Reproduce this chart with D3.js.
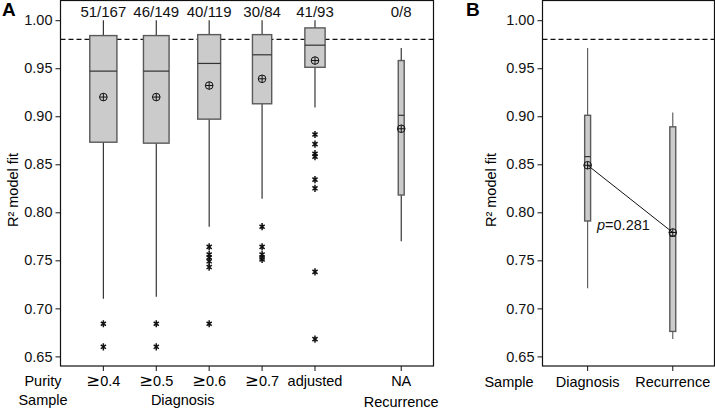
<!DOCTYPE html>
<html><head><meta charset="utf-8">
<script src="https://cdn.jsdelivr.net/npm/d3@7"></script>
<style>
html,body{margin:0;padding:0;background:#fff;}
svg{display:block;font-family:"Liberation Sans",Arial,Helvetica,sans-serif;}
</style></head>
<body>
<svg id="chart" width="715" height="409"></svg>
<script>
// ---------------- DATA ----------------
// Panel A
const purityA   = ["≥0.4", "≥0.5", "≥0.6", "≥0.7", "adjusted", "NA"];
const sampleA   = ["Diagnosis", "Diagnosis", "Diagnosis", "Diagnosis", "Diagnosis", "Recurrence"];
const countsA   = ["51/167", "46/149", "40/119", "30/84", "41/93", "0/8"];
const nA        = [167, 149, 119, 84, 93, 8];
const whiskLoA  = [0.710, 0.712, 0.785, 0.814, 0.909, 0.770];
const q1A       = [0.873, 0.872, 0.897, 0.913, 0.951, 0.818];
const medianA   = [0.947, 0.947, 0.955, 0.964, 0.974, 0.901];
const q3A       = [0.984, 0.984, 0.985, 0.985, 0.992, 0.958];
const whiskHiA  = [1.000, 1.000, 1.000, 1.000, 1.000, 0.971];
const meanA     = [0.920, 0.920, 0.932, 0.939, 0.958, 0.887];
const outliersA = [
  [0.684, 0.660],
  [0.684, 0.660],
  [0.764, 0.756, 0.753, 0.749, 0.743, 0.684],
  [0.785, 0.764, 0.756, 0.753, 0.751],
  [0.881, 0.871, 0.861, 0.858, 0.834, 0.825, 0.738, 0.668],
  []
];
// Panel B
const sampleB   = ["Diagnosis", "Recurrence"];
const nB        = [8, 8];
const whiskLoB  = [0.721, 0.668];
const q1B       = [0.791, 0.676];
const medianB   = [0.858, 0.775];
const q3B       = [0.901, 0.889];
const whiskHiB  = [0.971, 0.904];
const meanB     = [0.849, 0.779];
const pLabelB   = "0.281";
// shared
const threshold = 0.98;
const yTicks    = [0.65, 0.70, 0.75, 0.80, 0.85, 0.90, 0.95, 1.00];
const yDomain   = [0.640, 1.020];
const yTitle    = "R² model fit";

// ---------------- LAYOUT ----------------
const svg = d3.select("#chart");
const FS = 14.5;
const plotTop = 1, plotBottom = 366;
const y = d3.scaleLinear().domain(yDomain).range([plotBottom, plotTop]);

const slotA = [1, 2, 3, 4, 5, 6.63];
const xA = d3.scaleLinear().domain([0.19, 7.24]).range([60.5, 433.5]);
const slotB = [1, 2];
const xB = d3.scaleLinear().domain([0.47, 2.49]).range([542.5, 714.5]);
const boxW = n => 2.1 * Math.sqrt(n);

function star(g, cx, cy) {
  const r = 3.6, d = r * 0.72;
  const p = d3.path();
  p.moveTo(cx, cy - r); p.lineTo(cx, cy + r);
  p.moveTo(cx - d, cy - d * 0.75); p.lineTo(cx + d, cy + d * 0.75);
  p.moveTo(cx - d, cy + d * 0.75); p.lineTo(cx + d, cy - d * 0.75);
  g.append("path").attr("d", p.toString()).attr("fill", "none")
    .attr("stroke", "#111").attr("stroke-width", 1.5);
}

function drawPanel(x, slots, stats, opts) {
  const g = svg.append("g");
  const [x0, x1] = x.range();
  // y axis
  const ax = g.append("g").attr("transform", `translate(${x0},0)`)
    .call(d3.axisLeft(y).tickValues(yTicks).tickFormat(d3.format(".2f")).tickSize(5).tickPadding(3));
  ax.select(".domain").remove();
  ax.attr("font-family", null).attr("font-size", FS);
  ax.selectAll("text").attr("fill", "#111");
  ax.selectAll("line").attr("stroke", "#111");
  // x ticks
  g.selectAll("line.xt").data(slots).join("line")
    .attr("x1", d => x(d)).attr("x2", d => x(d))
    .attr("y1", plotBottom).attr("y2", plotBottom + 5).attr("stroke", "#111");
  // dashed threshold
  g.append("line").attr("x1", x0).attr("x2", x1)
    .attr("y1", y(threshold)).attr("y2", y(threshold))
    .attr("stroke", "#111").attr("stroke-dasharray", "5,3").attr("stroke-width", 1.1);
  // boxes
  stats.forEach((s, i) => {
    const cx = x(slots[i]);
    const w = boxW(s.n);
    g.append("line").attr("x1", cx).attr("x2", cx)
      .attr("y1", y(s.hi)).attr("y2", y(s.q3)).attr("stroke", opts.whisk).attr("stroke-width", 1.1);
    g.append("line").attr("x1", cx).attr("x2", cx)
      .attr("y1", y(s.q1)).attr("y2", y(s.lo)).attr("stroke", opts.whisk).attr("stroke-width", 1.1);
    g.append("rect").attr("x", cx - w / 2).attr("width", w)
      .attr("y", y(s.q3)).attr("height", y(s.q1) - y(s.q3))
      .attr("fill", "#cbcbcb").attr("stroke", "#5a5a5a").attr("stroke-width", 1.4);
    g.append("line").attr("x1", cx - w / 2).attr("x2", cx + w / 2)
      .attr("y1", y(s.med)).attr("y2", y(s.med)).attr("stroke", "#333").attr("stroke-width", 1.2);
    (s.out || []).forEach(v => star(g, cx, y(v)));
  });
  return g;
}

function meanMark(g, cx, cy) {
  const r = 3.8;
  g.append("circle").attr("cx", cx).attr("cy", cy).attr("r", r)
    .attr("fill", "none").attr("stroke", "#111").attr("stroke-width", 1);
  g.append("line").attr("x1", cx - r).attr("x2", cx + r).attr("y1", cy).attr("y2", cy).attr("stroke", "#111");
  g.append("line").attr("x1", cx).attr("x2", cx).attr("y1", cy - r).attr("y2", cy + r).attr("stroke", "#111");
}

// ---------- Panel A ----------
const statsA = purityA.map((p, i) => ({
  n: nA[i], lo: whiskLoA[i], q1: q1A[i], med: medianA[i], q3: q3A[i], hi: whiskHiA[i], out: outliersA[i]
}));
const gA = drawPanel(xA, slotA, statsA, { whisk: "#222" });
meanA.forEach((m, i) => meanMark(gA, xA(slotA[i]), y(m)));
gA.selectAll("text.cnt").data(countsA).join("text")
  .attr("x", (d, i) => xA(slotA[i])).attr("y", 16.5)
  .attr("text-anchor", "middle").attr("font-size", 15).attr("fill", "#111").text(d => d);
gA.append("rect").attr("x", 60.5).attr("y", 0.5).attr("width", 373).attr("height", 365.5)
  .attr("fill", "none").attr("stroke", "#111").attr("stroke-width", 1.2);
// row labels
gA.append("text").attr("x", 43).attr("y", 386).attr("text-anchor", "middle").attr("font-size", FS).text("Purity");
gA.append("text").attr("x", 43).attr("y", 405).attr("text-anchor", "middle").attr("font-size", FS).text("Sample");
purityA.forEach((d, i) => {
  const t = gA.append("text").attr("x", xA(slotA[i])).attr("y", 386)
    .attr("text-anchor", "middle").attr("font-size", FS);
  if (d.startsWith("≥")) {
    t.append("tspan").attr("font-family", "DejaVu Sans").attr("font-size", 16.5).text("≥");
    t.append("tspan").text(d.slice(1));
  } else {
    t.text(d);
  }
});
// sample group labels (centered over their groups)
const sampleGroupsA = d3.groups(sampleA.map((s, i) => ({ s, i })), d => d.s);
sampleGroupsA.forEach(([name, items]) => {
  const idx = items.map(d => d.i);
  const first = slotA[idx[0]], last = slotA[idx[idx.length - 1]];
  const c = idx.length > 1 ? (first + (last - first) * 0.375) : first;
  gA.append("text").attr("x", xA(c)).attr("y", idx.length > 1 ? 405 : 407)
    .attr("text-anchor", "middle").attr("font-size", FS).text(name);
});
gA.append("text").attr("transform", "translate(18,190) rotate(-90)")
  .attr("text-anchor", "middle").attr("font-size", FS).text(yTitle);
svg.append("text").attr("x", 2).attr("y", 15.5).attr("font-size", 19).attr("font-weight", "bold").text("A");

// ---------- Panel B ----------
const statsB = sampleB.map((s, i) => ({
  n: nB[i], lo: whiskLoB[i], q1: q1B[i], med: medianB[i], q3: q3B[i], hi: whiskHiB[i], out: []
}));
const gB = drawPanel(xB, slotB, statsB, { whisk: "#555" });
const lineB = d3.line().x((d, i) => xB(slotB[i])).y(d => y(d));
gB.append("path").attr("d", lineB(meanB)).attr("fill", "none").attr("stroke", "#111").attr("stroke-width", 1);
meanB.forEach((m, i) => meanMark(gB, xB(slotB[i]), y(m)));
const pt = gB.append("text").attr("x", 597).attr("y", 230).attr("font-size", FS).attr("fill", "#111");
pt.append("tspan").attr("font-style", "italic").text("p");
pt.append("tspan").text("=" + pLabelB);
gB.append("rect").attr("x", 542.5).attr("y", 0.5).attr("width", 172).attr("height", 365.5)
  .attr("fill", "none").attr("stroke", "#111").attr("stroke-width", 1.2);
gB.append("text").attr("x", 509).attr("y", 387).attr("text-anchor", "middle").attr("font-size", FS).text("Sample");
gB.selectAll("text.smp").data(sampleB).join("text")
  .attr("x", (d, i) => xB(slotB[i])).attr("y", 387)
  .attr("text-anchor", "middle").attr("font-size", FS).text(d => d);
gB.append("text").attr("transform", "translate(496,190) rotate(-90)")
  .attr("text-anchor", "middle").attr("font-size", FS).text(yTitle);
svg.append("text").attr("x", 466).attr("y", 16).attr("font-size", 19).attr("font-weight", "bold").text("B");
</script>
</body></html>
